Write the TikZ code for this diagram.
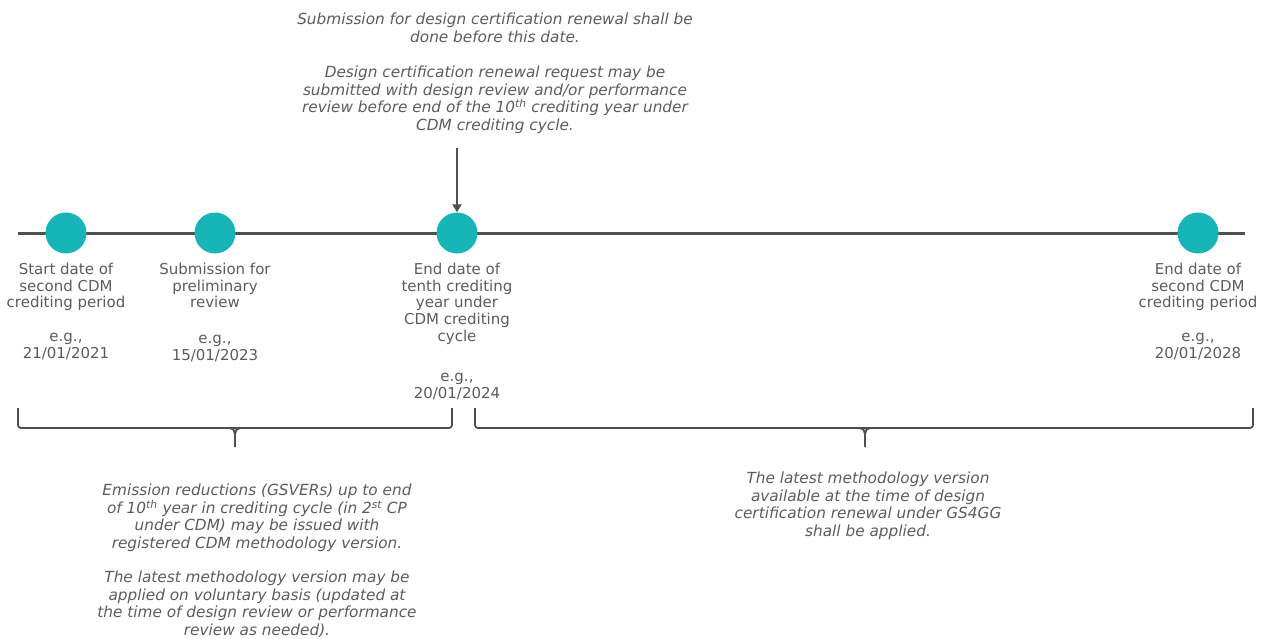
\documentclass[tikz,border=0pt]{standalone}
\usepackage{fontspec}
\setmainfont{DejaVu Sans}
\usetikzlibrary{positioning,arrows.meta}
\definecolor{dotteal}{HTML}{17B5B8}
\definecolor{linegray}{HTML}{4F4F4F}
\definecolor{txtgray}{HTML}{5C5C5C}
\tikzset{
  dot/.style={circle, fill=dotteal, minimum size=41pt, inner sep=0pt},
  lbl/.style={text=txtgray, align=center, inner sep=0pt, font=\fontsize{15}{16.8}\selectfont},
  note/.style={text=txtgray, align=center, inner sep=0pt, font=\fontsize{15.3}{17.5}\selectfont\itshape},
  axis/.style={draw=linegray, line width=3pt},
  brc/.style={draw=linegray, line width=1.8pt},
}
\newcommand\curly[3]{%
  \draw[brc, rounded corners=3pt] (#1,408) -- (#1,428) -- (#2,428) -- (#2,408);
  \draw[brc] (#3,428) ++(-5,0) to[out=0, in=90] ++(5,6) -- ++(0,13);
  \draw[brc] (#3,428) ++(5,0) to[out=180, in=90] ++(-5,6);
}
\begin{document}
\begin{tikzpicture}[x=1pt, y=-1pt]
\useasboundingbox (0,0) rectangle (1266,638);
\def\yl{233}
\def\xa{66}
\def\xb{215}
\def\xc{457}
\def\xd{1198}

\coordinate (l0) at (18,\yl);
\coordinate (l1) at (1245,\yl);
\draw[axis] (l0) -- (l1);

\node[dot] (start) at (\xa,\yl) {};
\node[dot] (prelim) at (\xb,\yl) {};
\node[dot] (tenth) at (\xc,\yl) {};
\node[dot] (end) at (\xd,\yl) {};

\node[lbl, below=9pt of start] (starttxt) {Start date of\\second CDM\\crediting period\\[17pt]e.g.,\\21/01/2021};
\node[lbl, below=9pt of prelim] (prelimtxt) {Submission for\\preliminary\\review\\[19pt]e.g.,\\15/01/2023};
\node[lbl, below=9pt of tenth] (tenthtxt) {End date of\\tenth crediting\\year under\\CDM crediting\\cycle\\[23pt]e.g.,\\20/01/2024};
\node[lbl, below=9pt of end] (endtxt) {End date of\\second CDM\\crediting period\\[17pt]e.g.,\\20/01/2028};

% renewal note and arrow
\node[note, anchor=north] (renewal) at (495,13) {Submission for design certification renewal shall be\\done before this date.\\[18pt]Design certification renewal request may be\\submitted with design review and/or performance\\review before end of the 10\textsuperscript{th} crediting year under\\CDM crediting cycle.};
\coordinate (arr) at (\xc,148);
\draw[draw=linegray, line width=2.6pt, -{Triangle[length=8pt, width=9pt]}] (arr) -- (tenth.north);

% braces
\curly{18}{452}{235}
\curly{475}{1253}{865}

\node[note, anchor=north] (cdmnote) at (257,484) {Emission reductions (GSVERs) up to end\\of 10\textsuperscript{th} year in crediting cycle (in 2\textsuperscript{st} CP\\under CDM) may be issued with\\registered CDM methodology version.\\[17pt]The latest methodology version may be\\applied on voluntary basis (updated at\\the time of design review or performance\\review as needed).};
\node[note, anchor=north] (gsnote) at (868,472) {The latest methodology version\\available at the time of design\\certification renewal under GS4GG\\shall be applied.};
\end{tikzpicture}
\end{document}
